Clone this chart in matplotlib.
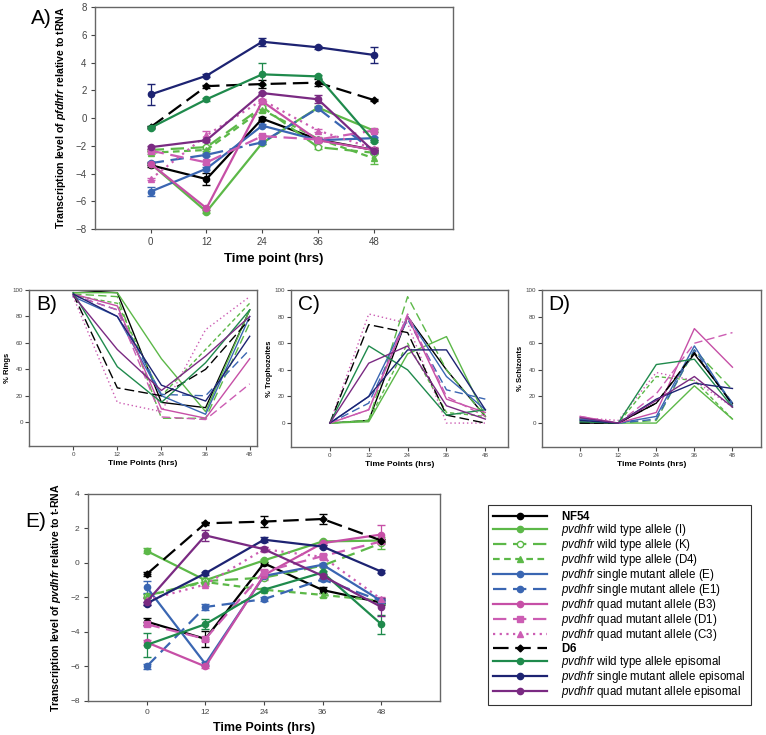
import matplotlib
matplotlib.use("Agg")
import matplotlib.pyplot as plt
from matplotlib.lines import Line2D

plt.rcParams["font.family"] = ["Liberation Sans", "DejaVu Sans"]
plt.rcParams["mathtext.fontset"] = "custom"
plt.rcParams["mathtext.it"] = "Liberation Sans:italic"
plt.rcParams["mathtext.rm"] = "Liberation Sans"
plt.rcParams["mathtext.bf"] = "Liberation Sans:bold"
plt.rcParams["mathtext.bfit"] = "Liberation Sans:bold:italic"

# time points
hours = [0, 12, 24, 36, 48]

# series names (legend order)
names = [r"$\mathbf{NF54}$",
         r"$\it{pvdhfr}$ wild type allele (I)",
         r"$\it{pvdhfr}$ wild type allele (K)",
         r"$\it{pvdhfr}$ wild type allele (D4)",
         r"$\it{pvdhfr}$ single mutant allele (E)",
         r"$\it{pvdhfr}$ single mutant allele (E1)",
         r"$\it{pvdhfr}$ quad mutant allele (B3)",
         r"$\it{pvdhfr}$ quad mutant allele (D1)",
         r"$\it{pvdhfr}$ quad mutant allele (C3)",
         r"$\mathbf{D6}$",
         r"$\it{pvdhfr}$ wild type allele episomal",
         r"$\it{pvdhfr}$ single mutant allele episomal",
         r"$\it{pvdhfr}$ quad mutant allele episomal"]

# A) pfdhfr transcription
pf_vals = [[-3.4, -4.4, -0.05, -1.55, -2.3],
           [-3.3, -6.75, -1.8, 0.75, -0.9],
           [-2.3, -2.1, 0.8, -2.1, -2.5],
           [-2.5, -2.3, 0.6, -1.5, -2.9],
           [-5.3, -3.65, -0.55, -1.6, -1.45],
           [-3.25, -2.65, -1.75, 0.7, -2.4],
           [-3.3, -6.5, 1.2, -1.6, -2.3],
           [-2.35, -3.2, -1.3, -1.55, -0.9],
           [-4.4, -1.25, 1.3, -0.9, -2.2],
           [-0.65, 2.3, 2.45, 2.55, 1.3],
           [-0.7, 1.35, 3.15, 3.0, -1.65],
           [1.7, 3.05, 5.5, 5.1, 4.55],
           [-2.1, -1.6, 1.8, 1.35, -2.4]]
pf_err = [[0.15, 0.45, 0.1, 0.1, 0.15],
          [0.1, 0.1, 0.1, 0.1, 0.1],
          [0.1, 0.1, 0.1, 0.1, 0.1],
          [0.1, 0.1, 0.15, 0.1, 0.4],
          [0.35, 0.1, 0.1, 0.1, 0.1],
          [0.1, 0.1, 0.1, 0.1, 0.1],
          [0.1, 0.1, 0.1, 0.1, 0.1],
          [0.1, 0.1, 0.1, 0.1, 0.1],
          [0.1, 0.3, 0.1, 0.1, 0.1],
          [0.1, 0.1, 0.3, 0.25, 0.1],
          [0.1, 0.1, 0.8, 0.1, 0.1],
          [0.75, 0.1, 0.3, 0.1, 0.6],
          [0.1, 0.1, 0.1, 0.3, 0.1]]

# B) % rings
rings = [[100, 98, 15, 11, 85],
         [98, 98, 48, 8, 85],
         [97, 95, 3, 3, 75],
         [96, 90, 20, 55, 90],
         [95, 80, 20, 6, 80],
         [96, 85, 21, 20, 55],
         [97, 88, 10, 3, 48],
         [96, 85, 4, 2, 29],
         [95, 15, 8, 70, 95],
         [97, 26, 20, 40, 78],
         [98, 42, 15, 45, 85],
         [97, 80, 28, 16, 65],
         [96, 55, 24, 50, 80]]

# C) % trophozoites
trophs = [[0, 2, 80, 40, 5],
          [0, 1, 52, 65, 5],
          [0, 2, 95, 40, 5],
          [0, 2, 60, 8, 5],
          [0, 20, 80, 35, 10],
          [0, 15, 78, 25, 18],
          [0, 10, 80, 18, 8],
          [0, 10, 82, 20, 5],
          [0, 82, 75, 0, 0],
          [0, 74, 68, 6, 0],
          [0, 58, 40, 6, 10],
          [0, 20, 55, 55, 10],
          [0, 45, 58, 13, 3]]

# D) % schizonts
schiz = [[0, 0, 15, 52, 15],
         [3, 0, 0, 28, 3],
         [3, 0, 2, 55, 25],
         [4, 0, 35, 32, 3],
         [3, 0, 5, 58, 13],
         [2, 0, 3, 55, 15],
         [5, 0, 8, 71, 42],
         [5, 0, 22, 60, 68],
         [4, 2, 38, 32, 12],
         [0, 0, 15, 53, 14],
         [1, 0, 44, 48, 12],
         [2, 0, 18, 30, 26],
         [4, 0, 17, 35, 12]]

# E) pvdhfr transcription
pv_vals = [[-3.4, -4.4, -0.02, -1.57, -2.3],
           [0.7, -1.0, 0.15, 1.25, 1.3],
           [-1.9, -1.05, -0.85, -0.15, 1.15],
           [-1.9, -1.1, -1.55, -1.85, -2.2],
           [-1.4, -5.85, -0.75, -0.1, -2.2],
           [-6.0, -2.55, -2.1, -0.95, -2.2],
           [-4.6, -6.0, -0.7, 1.15, 1.65],
           [-3.55, -4.4, -0.5, 0.4, 1.25],
           [-2.15, -1.25, 0.8, 0.35, -2.1],
           [-0.65, 2.3, 2.4, 2.55, 1.3],
           [-4.75, -3.55, -1.55, -0.55, -3.55],
           [-2.35, -0.6, 1.35, 0.95, -0.5],
           [-2.25, 1.6, 0.8, -0.75, -2.55]]
pv_err = [[0.2, 0.45, 0.1, 0.15, 0.15],
          [0.15, 0.1, 0.1, 0.1, 0.1],
          [0.1, 0.1, 0.1, 0.1, 0.35],
          [0.1, 0.1, 0.1, 0.1, 0.15],
          [0.35, 0.1, 0.1, 0.1, 0.1],
          [0.15, 0.15, 0.1, 0.1, 0.1],
          [0.15, 0.1, 0.3, 0.1, 0.55],
          [0.1, 0.1, 0.1, 0.1, 0.1],
          [0.1, 0.1, 0.1, 0.1, 0.1],
          [0.1, 0.1, 0.3, 0.3, 0.1],
          [0.7, 0.3, 0.1, 0.1, 0.55],
          [0.1, 0.1, 0.15, 0.1, 0.1],
          [0.2, 0.3, 0.1, 0.1, 0.5]]

# styles per series
LG, BL, MG, PK = "#5cb848", "#3a66b2", "#c64fa6", "#cc5db3"
colors = ["black", LG, LG, LG, BL, BL, MG, PK, PK, "black", "#1f8a4c", "#1d2372", "#7a2a82"]
dashes = [None, None, (6, 3), (3, 2), None, (6, 3), None, (6, 3), (1, 2), (7, 3), None, None, None]
markers = ["o", "o", "o", "^", "o", "o", "o", "s", "^", "D", "o", "o", "o"]
mfaces = [None, None, "white", None, None, None, None, None, None, None, None, None, None]

fig = plt.figure(figsize=(7.66, 7.35), dpi=100)


def style_axes(ax, xlim, ylim, yticks, fs, pad=3):
    ax.set_xlim(*xlim)
    ax.set_ylim(*ylim)
    ax.set_xticks(hours)
    ax.set_yticks(yticks)
    for s in ax.spines.values():
        s.set_color("#666666")
        s.set_linewidth(1.0)
    ax.tick_params(labelsize=fs, colors="#444444", length=3, width=0.8, pad=pad)


def draw_marked(ax, vals, errs):
    for i in range(len(vals)):
        ls = "-" if dashes[i] is None else (0, dashes[i])
        ax.errorbar(hours, vals[i], yerr=errs[i], color=colors[i], ls=ls, lw=1.6,
                    marker=markers[i], ms=4.5 if markers[i] != "D" else 3.5,
                    mfc=mfaces[i] or colors[i], mec=colors[i],
                    elinewidth=0.9, capsize=3, ecolor=colors[i], zorder=3)


def draw_thin(ax, vals):
    for i in range(len(vals)):
        ls = "-" if dashes[i] is None else (0, dashes[i])
        ax.plot(hours, vals[i], color=colors[i], ls=ls, lw=1.0)


# A
axA = fig.add_axes([0.124, 0.6884, 0.467, 0.302])
draw_marked(axA, pf_vals, pf_err)
style_axes(axA, (-12, 65), (-8, 8), range(-8, 9, 2), 7)
axA.set_xlabel("Time point (hrs)", fontsize=9.5, fontweight="bold")
axA.set_ylabel(r"Transcription level of $\mathbfit{pfdhfr}$ relative to tRNA",
               fontsize=7.6, fontweight="bold", labelpad=5)
fig.text(0.04, 0.975, "A)", fontsize=15, va="center")

# B, C, D
specs = [([0.0379, 0.3932, 0.2977, 0.2122], rings, "% Rings", (-12, 50), "B)"),
         ([0.3799, 0.3918, 0.2833, 0.2136], trophs, "% Trophozoites", (-12, 55), "C)"),
         ([0.7076, 0.3918, 0.2859, 0.2136], schiz, "% Schizonts", (-12, 57), "D)")]
for pos, vals, ylab, xl, lab in specs:
    ax = fig.add_axes(pos)
    draw_thin(ax, vals)
    style_axes(ax, xl, (-18, 100), range(0, 101, 20), 4.5, pad=1.5)
    ax.set_xlabel("Time Points (hrs)", fontsize=6, fontweight="bold", labelpad=2)
    ax.set_ylabel(ylab, fontsize=5.5, fontweight="bold", labelpad=1)
    ax.text(0.03, 0.97, lab, transform=ax.transAxes, fontsize=15, va="top")

# E
axE = fig.add_axes([0.1149, 0.0463, 0.4595, 0.2816])
draw_marked(axE, pv_vals, pv_err)
style_axes(axE, (-12, 60), (-8, 4), range(-8, 5, 2), 6)
axE.set_xlabel("Time Points (hrs)", fontsize=9, fontweight="bold")
axE.set_ylabel(r"Transcription level of $\mathbfit{pvdhfr}$ relative to t-RNA",
               fontsize=7.6, fontweight="bold", labelpad=5)
fig.text(0.033, 0.29, "E)", fontsize=15, va="center")

# legend
handles = []
for i in range(len(names)):
    ls = "-" if dashes[i] is None else (0, dashes[i])
    handles.append(Line2D([], [], color=colors[i], ls=ls, lw=1.6, marker=markers[i],
                          ms=4.5 if markers[i] != "D" else 3.5,
                          mfc=mfaces[i] or colors[i], mec=colors[i]))
leg = fig.legend(handles, names, loc="upper left", bbox_to_anchor=(0.637, 0.313),
                 fontsize=8.3, frameon=True, fancybox=False, edgecolor="black",
                 handlelength=4.7, labelspacing=-0.09, borderpad=0.45, handletextpad=1.2,
                 borderaxespad=0)
leg.get_frame().set_linewidth(0.8)

fig.savefig("out.png", dpi=100)
